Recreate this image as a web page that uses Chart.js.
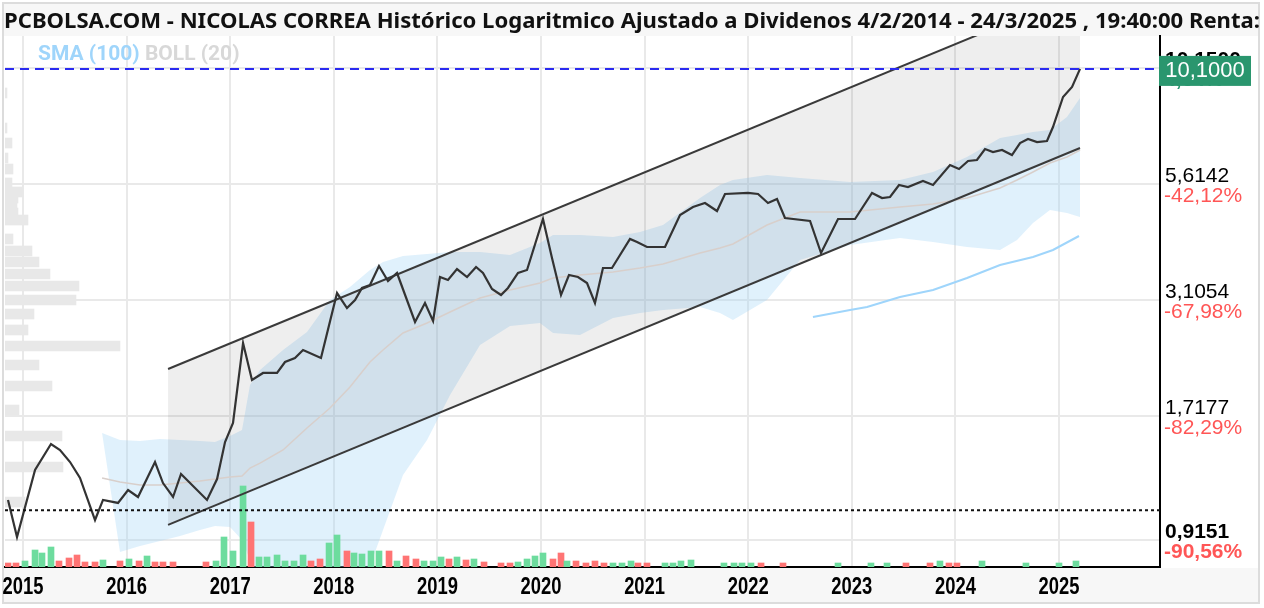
<!DOCTYPE html>
<html lang="es">
<head>
  <meta charset="UTF-8">
  <meta name="viewport" content="width=device-width, initial-scale=1.0" />
  <title>NICOLAS CORREA - Histórico logarítmico</title>
  <script src="https://cdn.jsdelivr.net/npm/chart.js@4"></script>
  <style>
    html, body { margin: 0; padding: 0; background: #fff; }
    #wrap { width: 1264px; height: 608px; }
  </style>
</head>
<body>
  <div id="wrap"><canvas id="chart" width="1264" height="608"></canvas></div>

  <script>
    // --- datos (años decimales, precios en euros) ---
    const titleText = 'PCBOLSA.COM - NICOLAS CORREA Histórico Logaritmico Ajustado a Dividenos 4/2/2014 - 24/3/2025 , 19:40:00 Renta:';

    const priceDates = [2014.855, 2014.942, 2015.116, 2015.270, 2015.357, 2015.454, 2015.550, 2015.695, 2015.772, 2015.917,
      2016.014, 2016.110, 2016.274, 2016.351, 2016.448, 2016.525, 2016.776, 2016.873, 2016.950, 2017.027,
      2017.124, 2017.210, 2017.317, 2017.452, 2017.529, 2017.625, 2017.703, 2017.876, 2018.031, 2018.127,
      2018.205, 2018.272, 2018.349, 2018.436, 2018.523, 2018.610, 2018.784, 2018.880, 2018.958, 2019.025,
      2019.102, 2019.189, 2019.286, 2019.373, 2019.440, 2019.527, 2019.614, 2019.681, 2019.778, 2019.865,
      2020.019, 2020.106, 2020.193, 2020.270, 2020.357, 2020.444, 2020.521, 2020.598, 2020.685, 2020.859,
      2020.927, 2021.023, 2021.197, 2021.342, 2021.467, 2021.583, 2021.699, 2021.776, 2021.998, 2022.095,
      2022.191, 2022.278, 2022.355, 2022.597, 2022.703, 2022.867, 2023.031, 2023.195, 2023.292, 2023.369,
      2023.456, 2023.542, 2023.687, 2023.784, 2023.948, 2024.035, 2024.122, 2024.208, 2024.286, 2024.363,
      2024.450, 2024.546, 2024.624, 2024.701, 2024.788, 2024.884, 2024.942, 2025.039, 2025.126, 2025.203];
    const priceValues = [1.120, 0.927, 1.305, 1.490, 1.445, 1.359, 1.253, 1.011, 1.120, 1.103,
      1.178, 1.137, 1.359, 1.221, 1.137, 1.279, 1.120, 1.246, 1.505, 1.659,
      2.494, 2.065, 2.141, 2.141, 2.264, 2.311, 2.407, 2.311, 3.219, 2.982,
      3.107, 3.303, 3.353, 3.695, 3.423, 3.565, 2.777, 3.059, 2.791, 3.493,
      3.440, 3.638, 3.493, 3.676, 3.565, 3.286, 3.187, 3.303, 3.565, 3.620,
      4.696, 3.848, 3.187, 3.529, 3.493, 3.388, 3.059, 3.657, 3.657, 4.241,
      4.176, 4.071, 4.071, 4.793, 4.993, 5.096, 4.891, 5.335, 5.363, 5.335,
      5.096, 5.201, 4.720, 4.648, 3.948, 4.696, 4.696, 5.363, 5.227, 5.254,
      5.586, 5.529, 5.701, 5.586, 6.185, 6.060, 6.313, 6.345, 6.711, 6.609,
      6.677, 6.509, 6.920, 7.063, 6.955, 6.990, 7.509, 8.752, 9.210, 10.10];

    // Bandas de Bollinger (20)
    const bollDates = [2015.763, 2015.936, 2016.129, 2016.322, 2016.515, 2016.708, 2016.853, 2016.998, 2017.114, 2017.191,
      2017.288, 2017.510, 2017.741, 2017.963, 2018.156, 2018.349, 2018.475, 2018.668, 2018.900, 2019.122,
      2019.411, 2019.701, 2019.990, 2020.116, 2020.376, 2020.695, 2020.956, 2021.178, 2021.535, 2021.728,
      2021.853, 2022.181, 2022.500, 2022.983, 2023.465, 2023.784, 2024.112, 2024.431, 2024.595, 2024.749,
      2024.913, 2025.077, 2025.203];
    const bollUpper = [1.576, 1.521, 1.513, 1.529, 1.521, 1.513, 1.505, 1.552, 1.600, 2.013,
      2.173, 2.407, 2.639, 3.107, 3.319, 3.620, 3.771, 3.888, 3.928, 3.969,
      3.969, 3.908, 4.155, 4.328, 4.328, 4.284, 4.395, 4.555, 5.227, 5.586,
      5.730, 5.878, 5.789, 5.672, 5.730, 5.969, 6.443, 7.099, 7.209, 7.320,
      7.395, 7.902, 8.707];
    const bollMid = [1.253, 1.227, 1.209, 1.209, 1.221, 1.234, 1.246, 1.259, 1.266, 1.318,
      1.352, 1.445, 1.617, 1.790, 1.993, 2.264, 2.407, 2.625, 2.762, 2.922,
      3.139, 3.269, 3.388, 3.475, 3.529, 3.583, 3.657, 3.733, 3.948, 4.050,
      4.134, 4.555, 4.866, 4.866, 4.993, 5.070, 5.227, 5.501, 5.730, 5.969,
      6.249, 6.443, 6.677];
    const bollLower = [1.576, 0.859, 0.885, 0.908, 0.932, 0.961, 0.981, 0.976, 0.913, 0.824,
      0.744, 0.639, 0.577, 0.607, 0.672, 0.800, 0.961, 1.272, 1.521, 1.913,
      2.469, 2.721, 2.762, 2.625, 2.598, 2.834, 2.907, 2.952, 2.997, 2.907,
      2.805, 3.107, 3.810, 4.113, 4.262, 4.176, 4.071, 4.009, 4.219, 4.601,
      4.916, 4.842, 4.744];

    // SMA (100)
    const smaDates = [2022.625, 2022.983, 2023.147, 2023.465, 2023.784, 2024.112, 2024.431, 2024.749, 2024.942, 2025.193];
    const smaValues = [2.848, 2.952, 2.997, 3.154, 3.269, 3.475, 3.714, 3.868, 4.009, 4.306];

    // canal alcista
    const channelDates = [2016.40, 2025.203];
    const channelUpper = [2.185, 14.90];
    const channelLower = [0.986, 6.746];

    const lastPrice = 10.10;
    const supportLevel = 1.062;

    // volumen mensual (miles de títulos)
    const volDates = [2014.855, 2014.932, 2015.019, 2015.116, 2015.183, 2015.270, 2015.347, 2015.444, 2015.521, 2015.598,
      2015.695, 2015.772, 2015.936, 2016.023, 2016.120, 2016.197, 2016.274, 2016.351, 2016.448, 2016.766,
      2016.863, 2016.940, 2017.027, 2017.124, 2017.201, 2017.278, 2017.355, 2017.452, 2017.529, 2017.616,
      2017.703, 2017.780, 2017.867, 2017.954, 2018.031, 2018.127, 2018.195, 2018.272, 2018.359, 2018.436,
      2018.533, 2018.610, 2018.697, 2018.793, 2018.871, 2018.958, 2019.035, 2019.112, 2019.189, 2019.276,
      2019.353, 2019.450, 2019.614, 2019.701, 2019.778, 2019.865, 2019.942, 2020.019, 2020.116, 2020.193,
      2020.251, 2020.338, 2020.434, 2020.521, 2020.608, 2020.695, 2020.782, 2020.869, 2020.936, 2021.023,
      2021.197, 2021.274, 2021.351, 2021.448, 2021.766, 2021.863, 2021.940, 2022.027, 2022.124, 2022.336,
      2022.867, 2023.185, 2023.340, 2023.523, 2023.755, 2023.851, 2023.938, 2024.015, 2024.257, 2024.681,
      2025.000, 2025.164];
    const volValues = [40, 40, 60, 170, 140, 200, 60, 90, 120, 50,
      50, 70, 60, 80, 60, 110, 50, 50, 50, 50,
      60, 300, 160, 810, 450, 100, 100, 120, 60, 60,
      120, 60, 80, 240, 320, 160, 140, 130, 160, 160,
      160, 60, 110, 80, 60, 60, 100, 80, 100, 70,
      80, 50, 40, 40, 50, 80, 110, 140, 80, 140,
      60, 60, 40, 60, 40, 40, 40, 60, 40, 40,
      40, 40, 60, 70, 40, 40, 40, 40, 40, 40,
      40, 40, 40, 40, 40, 60, 40, 40, 60, 40,
      40, 60];
    const volUp = [0, 0, 1, 1, 1, 1, 0, 0, 0, 0,
      0, 1, 0, 1, 0, 1, 0, 0, 0, 0,
      1, 1, 1, 1, 0, 1, 1, 1, 1, 1,
      1, 0, 0, 1, 1, 0, 1, 1, 1, 1,
      0, 1, 0, 0, 1, 1, 1, 0, 1, 0,
      1, 0, 0, 0, 1, 1, 1, 1, 0, 0,
      1, 0, 0, 0, 0, 1, 1, 1, 0, 0,
      1, 1, 1, 1, 1, 1, 1, 1, 0, 0,
      1, 1, 1, 0, 0, 1, 0, 0, 1, 1,
      1, 1];

    // perfil de volumen por precio
    const profilePrices = [8.932, 7.470, 6.920, 6.410, 6.060, 5.643, 5.390, 5.227, 5.018, 4.842,
      4.672, 4.241, 3.989, 3.771, 3.547, 3.336, 3.107, 2.892, 2.666, 2.457,
      2.230, 2.003, 1.772, 1.552, 1.325, 1.108];
    const profileVolumes = [20, 20, 70, 30, 80, 70, 180, 130, 120, 130,
      230, 80, 270, 340, 450, 740, 710, 290, 230, 1150,
      340, 470, 140, 570, 580, 200];

    // eje derecho
    const tickValues = [0.9151, 1.7177, 3.1054, 5.6142, 10.15];
    const tickPct = ['-90,56%', '-82,29%', '-67,98%', '-42,12%', '4,64%'];

    const xMin = 2014.826, xMax = 2025.975;
    const yMin = 0.7955, yMax = 11.946;

    const pts = (xs, ys) => xs.map((x, i) => ({ x: x, y: ys[i] }));
    const fmt = v => v.toFixed(4).replace('.', ',');

    const chartDecor = {
      id: 'chartDecor',
      beforeDraw(chart) {
        const ctx = chart.ctx;
        ctx.save();
        ctx.fillStyle = '#ffffff';
        ctx.fillRect(0, 0, chart.width, chart.height);
        ctx.fillStyle = '#f7f7f7';
        ctx.fillRect(3, 3, 1256, 33);
        ctx.fillRect(3, 568, 1256, 34);
        ctx.strokeStyle = '#dcdcdc';
        ctx.lineWidth = 2;
        ctx.strokeRect(3, 3, 1256, 600);

        // título, ajustado al ancho
        ctx.font = 'bold 22px "Noto Sans", "Open Sans", sans-serif';
        const w = ctx.measureText(titleText).width;
        ctx.translate(4, 28);
        ctx.scale(1256 / w, 1);
        ctx.fillStyle = '#111';
        ctx.textBaseline = 'alphabetic';
        ctx.fillText(titleText, 0, 0);
        ctx.restore();
      },
      afterDraw(chart) {
        const ctx = chart.ctx;
        const area = chart.chartArea;
        const ys = chart.scales.y;
        const xs = chart.scales.x;
        ctx.save();

        // años del eje x (letra estrecha)
        ctx.font = 'bold 23px "Liberation Sans", Arial, sans-serif';
        ctx.fillStyle = '#000';
        ctx.textAlign = 'center';
        ctx.textBaseline = 'alphabetic';
        xs.ticks.forEach(t => {
          const px = xs.getPixelForValue(t.value);
          ctx.save();
          ctx.translate(px, 594);
          ctx.scale(0.8, 1);
          ctx.fillText(String(t.value), 0, 0);
          ctx.restore();
        });
        ctx.textAlign = 'left';

        // leyenda
        ctx.font = 'bold 21px Roboto, sans-serif';
        ctx.fillStyle = '#9fd5fb';
        ctx.fillText('SMA (100)', 38, 60);
        const sw = ctx.measureText('SMA (100) ').width;
        ctx.fillStyle = '#d8d8d8';
        ctx.fillText('BOLL (20)', 38 + sw, 60);

        // etiquetas del eje derecho
        tickValues.forEach((v, i) => {
          const py = ys.getPixelForValue(v);
          const bold = i === 0 || i === tickValues.length - 1;
          ctx.font = (bold ? 'bold ' : '') + '21px "Liberation Sans", Arial, sans-serif';
          ctx.fillStyle = tickPct[i].startsWith('-') ? '#ff5656' : '#2a9670';
          ctx.fillText(tickPct[i], area.right + 4, py + 18);
          ctx.fillStyle = '#000';
          ctx.fillText(fmt(v), area.right + 5, py - 2);
        });

        // caja del último precio
        const py = ys.getPixelForValue(lastPrice);
        ctx.fillStyle = '#2a966e';
        ctx.fillRect(area.right - 1, py - 13, 92, 30);
        ctx.fillStyle = '#fff';
        ctx.font = '22px "Liberation Sans", Arial, sans-serif';
        ctx.textAlign = 'center';
        ctx.textBaseline = 'middle';
        ctx.fillText(fmt(lastPrice), area.right + 45, py + 2);
        ctx.restore();
      }
    };

    new Chart(document.getElementById('chart'), {
      type: 'line',
      data: {
        datasets: [
          {
            type: 'bar',
            indexAxis: 'y',
            data: pts(profileVolumes, profilePrices),
            xAxisID: 'xProf',
            yAxisID: 'y',
            backgroundColor: '#e8e8e8',
            barThickness: 10,
            grouped: false,
            order: 20
          },
          {
            data: pts(channelDates, channelUpper),
            xAxisID: 'x', yAxisID: 'y',
            borderColor: '#3a3a3a', borderWidth: 2,
            backgroundColor: 'rgba(0,0,0,0.065)',
            fill: '+1',
            order: 3
          },
          {
            data: pts(channelDates, channelLower),
            xAxisID: 'x', yAxisID: 'y',
            borderColor: '#3a3a3a', borderWidth: 2,
            fill: false,
            order: 3
          },
          {
            data: pts(bollDates, bollUpper),
            xAxisID: 'x', yAxisID: 'y',
            borderWidth: 0,
            backgroundColor: 'rgba(160,212,246,0.33)',
            fill: '+1',
            order: 6
          },
          {
            data: pts(bollDates, bollLower),
            xAxisID: 'x', yAxisID: 'y',
            borderWidth: 0,
            fill: false,
            order: 6
          },
          {
            data: pts(bollDates, bollMid),
            xAxisID: 'x', yAxisID: 'y',
            borderColor: '#d8cfcb', borderWidth: 1.5,
            fill: false,
            order: 5
          },
          {
            data: pts(smaDates, smaValues),
            xAxisID: 'x', yAxisID: 'y',
            borderColor: '#9fd5fb', borderWidth: 2,
            fill: false,
            order: 4
          },
          {
            type: 'bar',
            data: pts(volDates, volValues),
            xAxisID: 'x', yAxisID: 'yVol',
            backgroundColor: volUp.map(u => u ? '#6ddc9e' : '#ff7474'),
            barThickness: 6,
            grouped: false,
            order: 7
          },
          {
            data: pts(priceDates, priceValues),
            xAxisID: 'x', yAxisID: 'y',
            borderColor: '#333333', borderWidth: 2.2,
            fill: false,
            order: 1
          },
          {
            data: [{ x: xMin, y: lastPrice }, { x: xMax, y: lastPrice }],
            xAxisID: 'x', yAxisID: 'y',
            borderColor: '#2b2bf0', borderWidth: 2, borderDash: [9, 6],
            fill: false,
            order: 0
          },
          {
            data: [{ x: xMin, y: supportLevel }, { x: xMax, y: supportLevel }],
            xAxisID: 'x', yAxisID: 'y',
            borderColor: '#111', borderWidth: 2, borderDash: [3, 3],
            fill: false,
            order: 0
          }
        ]
      },
      options: {
        responsive: false,
        animation: false,
        events: [],
        layout: { padding: { left: 5, top: 36, right: 0, bottom: 0 } },
        elements: { point: { radius: 0 }, line: { tension: 0 } },
        plugins: {
          legend: { display: false },
          tooltip: { enabled: false },
          filler: { drawTime: 'beforeDatasetsDraw' }
        },
        scales: {
          x: {
            type: 'linear',
            offset: false,
            min: xMin, max: xMax,
            ticks: {
              stepSize: 1,
              includeBounds: false,
              autoSkip: false,
              maxRotation: 0,
              display: false
            },
            grid: { color: '#e9e9e9', lineWidth: 2, drawTicks: false, offset: false },
            border: { color: '#000', width: 2 },
            afterFit: s => { s.height = 41; s.paddingLeft = 0; s.paddingRight = 0; }
          },
          y: {
            type: 'logarithmic',
            position: 'right',
            offset: false,
            min: yMin, max: yMax,
            afterBuildTicks: s => { s.ticks = tickValues.map(v => ({ value: v })); },
            ticks: { display: false },
            grid: { color: '#e9e9e9', lineWidth: 2, drawTicks: false, offset: false },
            border: { color: '#000', width: 2 },
            afterFit: s => { s.width = 104; }
          },
          yVol: { type: 'linear', display: false, offset: false, min: 0, max: 5310 },
          xProf: { type: 'linear', axis: 'x', display: false, offset: false, min: 0, max: 11550 }
        }
      },
      plugins: [chartDecor]
    });
  </script>
</body>
</html>
